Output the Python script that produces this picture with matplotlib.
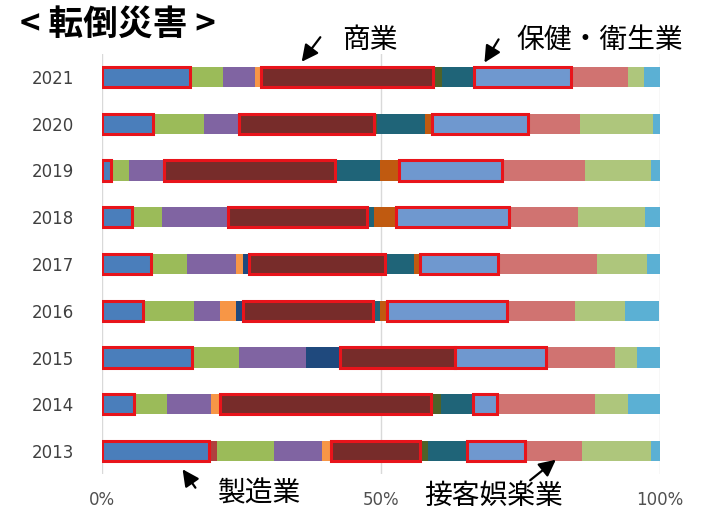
import matplotlib.pyplot as plt
import numpy as np

plt.rcParams['font.family'] = ['Noto Sans CJK JP', 'DejaVu Sans']

# years, top bar first
years = ['2021', '2020', '2019', '2018', '2017', '2016', '2015', '2014', '2013']

# share (%) of each industry per year
seizo   = [15.8, 9.1, 1.6, 5.3, 8.7, 7.4, 16.1, 5.8, 19.1]   # 製造業
aka     = [0, 0, 0, 0, 0, 0, 0, 0, 1.5]
green   = [5.9, 9.2, 3.3, 5.4, 6.5, 9.1, 8.4, 5.9, 10.3]
purple  = [5.8, 6.3, 6.3, 11.8, 8.8, 4.6, 12.1, 7.8, 8.6]
orange  = [1.0, 0, 0, 0, 1.2, 3.0, 0, 1.7, 1.5]
navy    = [0, 0, 0, 0, 1.1, 1.2, 6.0, 0, 0]
shogyo  = [30.9, 24.2, 30.6, 25.0, 24.5, 23.3, 20.6, 37.8, 16.0]  # 商業
olive   = [1.6, 0.4, 0, 0, 0, 0, 0, 1.8, 1.5]
teal    = [5.6, 8.6, 8.1, 1.2, 5.1, 1.2, 0, 5.7, 7.0]
brown   = [0, 1.4, 3.3, 3.9, 1.1, 1.3, 0, 0, 0]
hoken   = [17.5, 17.2, 18.5, 20.3, 14.0, 21.5, 16.4, 4.2, 10.3]  # 保健衛生業
sekkyaku = [10.1, 9.2, 14.9, 12.4, 17.7, 12.1, 12.3, 17.6, 10.3]  # 接客娯楽業
lgreen  = [3.0, 13.1, 11.8, 12.1, 8.9, 9.1, 3.9, 5.9, 12.3]
cyan    = [2.9, 1.4, 1.7, 2.7, 2.6, 6.1, 4.3, 5.9, 1.7]

series = [seizo, aka, green, purple, orange, navy, shogyo, olive, teal,
          brown, hoken, sekkyaku, lgreen, cyan]
colors = ['#4a7ebb', '#b0403e', '#9bbb59', '#8064a2', '#f79646', '#1f497d',
          '#772c2a', '#4f6228', '#1f6478', '#c05a10', '#6f98cf', '#d07371',
          '#aec67c', '#5bb0d4']
outlined = [0, 6, 10]

fig = plt.figure(figsize=(7.02, 5.12), dpi=100)
ax = fig.add_axes([102 / 702, 37.6 / 512, 558 / 702, 420.8 / 512])

y = np.arange(len(years))[::-1]
left = np.zeros(len(years))
for i, (vals, c) in enumerate(zip(series, colors)):
    vals = np.array(vals, dtype=float)
    if i in outlined:
        ax.barh(y, vals, left=left, height=0.43, color=c, edgecolor='#e8141b',
                linewidth=2.2, zorder=4)
    else:
        ax.barh(y, vals, left=left, height=0.43, color=c, linewidth=0, zorder=3)
    left += vals

ax.set_xlim(0, 100)
ax.set_ylim(-0.5, 8.5)
ax.set_xticks([0, 50, 100])
ax.set_xticklabels(['0%', '50%', '100%'], fontsize=12, color='#505050',
                   family='DejaVu Sans')
ax.set_yticks(y)
ax.set_yticklabels(years, fontsize=12, color='#404040', family='DejaVu Sans')
ax.tick_params(length=0)
ax.tick_params(axis='x', pad=12)
ax.tick_params(axis='y', pad=20)
ax.xaxis.grid(True, color='#d9d9d9', linewidth=1, zorder=0)
ax.set_axisbelow(True)
for s in ax.spines.values():
    s.set_visible(False)

H = 512


def note(text, xy, xytext, tx, ty, ha='left'):
    ax.annotate('', xy=(xy[0], H - xy[1]), xycoords='figure pixels',
                xytext=(xytext[0], H - xytext[1]), textcoords='figure pixels',
                arrowprops=dict(arrowstyle='-|>,head_length=1.0,head_width=0.5',
                                color='black', lw=1.6))
    fig.text(tx / 702, (H - ty) / H, text, fontsize=20, ha=ha, va='center')


fig.text(20 / 702, (H - 24) / H, '< 転倒災害 >', fontsize=25, fontweight='bold',
         va='center')
note('商業', (300, 64), (322, 35), 342, 40)
note('保健・衛生業', (483, 65), (500, 37), 516, 40)
note('製造業', (181, 467), (197, 490), 218, 493)
note('接客娯楽業', (558, 458), (528, 482), 424, 496)

fig.savefig('out.png', dpi=100)
